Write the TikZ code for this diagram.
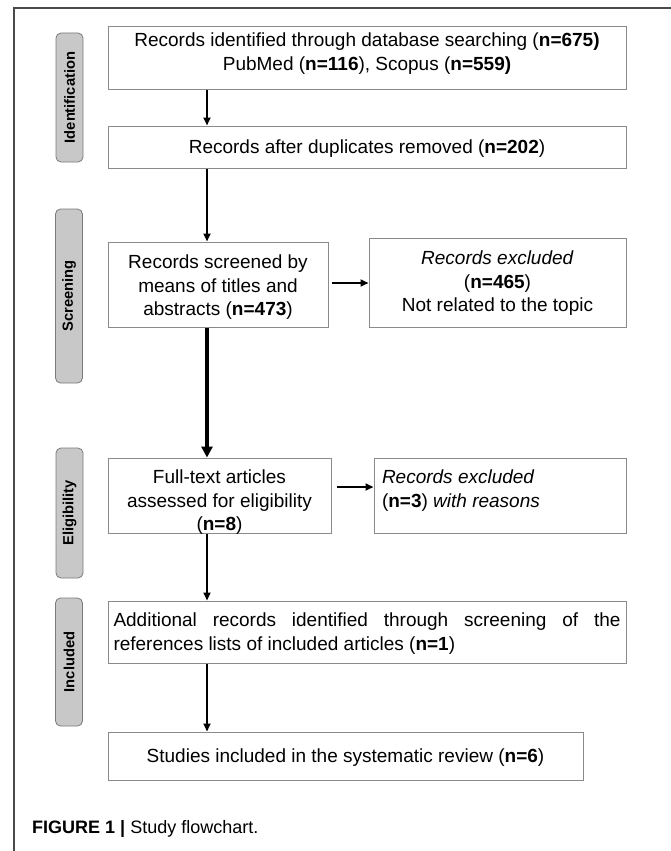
\documentclass[tikz,border=0pt]{standalone}
\usepackage{fontspec}
\setmainfont{Liberation Sans}
\usetikzlibrary{arrows.meta}
\definecolor{boxgray}{HTML}{8A8A8A}
\definecolor{labfill}{HTML}{C8C8C8}
\definecolor{labdraw}{HTML}{7A7A7A}
\definecolor{framegray}{HTML}{4A4A4A}
\newcommand{\inbox}[5]{\parbox[c][#1][t]{#2}{\vspace*{#3}#4\strut #5}}
\begin{document}
\begin{tikzpicture}[x=1pt,y=-1pt,
  box/.style={draw=boxgray,line width=1pt,fill=white,inner sep=0pt,
    font=\fontsize{19}{23.5}\selectfont},
  phase/.style={draw=labdraw,fill=labfill,rounded corners=5pt,line width=0.8pt,
    rotate=90,minimum height=27pt,inner sep=0pt,
    font=\fontsize{14.7}{17}\selectfont\bfseries},
  arr/.style={-{Triangle[length=8pt,width=7pt]},line width=2.2pt},
  thickarr/.style={-{Triangle[length=11pt,width=11pt]},line width=4.5pt},
  thinarr/.style={-{Triangle[length=8pt,width=7pt]},line width=1.8pt},
  harr/.style={-{Triangle[length=8pt,width=7pt]},line width=2.6pt}
]
\useasboundingbox (0,0) rectangle (671,851);
\fill[white] (0,0) rectangle (671,851);
\draw[framegray,line width=1.3pt] (671,8) -- (14,8) -- (14,851);

% phase labels
\node[phase,minimum width=129pt] (p1) at (69.5,97.5) {Identification};
\node[phase,minimum width=174pt] (p2) at (69,296) {Screening};
\node[phase,minimum width=130pt] (p3) at (69.5,513) {Eligibility};
\node[phase,minimum width=128pt] (p4) at (69,662) {Included};

% boxes
\node[box,minimum width=518pt,minimum height=62pt] (ident) at (367,58)
  {\inbox{62pt}{518pt}{3.5pt}{\centering}{Records identified through database searching (\textbf{n=675)}\\
   PubMed (\textbf{n=116}), Scopus (\textbf{n=559)}}};
\node[box,minimum width=518pt,minimum height=42pt] (dup) at (367,147)
  {\inbox{42pt}{518pt}{11.3pt}{\centering}{Records after duplicates removed (\textbf{n=202})}};
\node[box,minimum width=220pt,minimum height=85pt] (scr) at (218,284.5)
  {\inbox{85pt}{220pt}{10.5pt}{\centering}{Records screened by\\ means of titles and\\ abstracts (\textbf{n=473})}};
\node[box,minimum width=257pt,minimum height=89pt] (excl1) at (497.5,282.5)
  {\inbox{89pt}{257pt}{10.5pt}{\centering}{\textit{Records excluded}\\ (\textbf{n=465})\\ Not related to the topic}};
\node[box,minimum width=223pt,minimum height=75pt] (full) at (219.5,495.5)
  {\inbox{75pt}{223pt}{9.5pt}{\centering}{Full-text articles\\ assessed for eligibility\\ (\textbf{n=8})}};
\node[box,minimum width=252pt,minimum height=75pt] (excl2) at (500,495.5)
  {\inbox{75pt}{236pt}{9.5pt}{\raggedright}{\textit{Records excluded}\\ (\textbf{n=3}) \textit{with reasons}}};
\node[box,minimum width=518pt,minimum height=62pt] (add) at (367,632)
  {\inbox{62pt}{507pt}{9.5pt}{\tolerance=10000\hyphenpenalty=10000\exhyphenpenalty=10000}{Additional records identified through screening of the references lists of included articles (\textbf{n=1})}};
\node[box,minimum width=475pt,minimum height=48pt] (stud) at (345.5,756)
  {\inbox{48pt}{475pt}{14.3pt}{\centering}{Studies included in the systematic review (\textbf{n=6})}};

% connectors
\coordinate (col) at (207,0);
\coordinate (h2) at (0,487);
\draw[arr] (ident.south -| col) -- (dup.north -| col);
\draw[arr,line width=2.6pt] (dup.south -| col) -- (scr.north -| col);
\draw[thickarr] (scr.south -| col) -- (full.north -| col);
\draw[thinarr] (full.south -| col) -- (add.north -| col);
\draw[thinarr] (add.south -| col) -- (stud.north -| col);
\draw[harr,shorten <=3pt] (scr.east |- 0,283) -- (excl1.west |- 0,283);
\draw[harr,shorten <=5pt] (full.east |- h2) -- (excl2.west |- h2);

% caption
\node[anchor=west,inner sep=0pt,font=\fontsize{18}{20}\selectfont] (cap) at (32,829)
  {\textbf{FIGURE 1 |} Study flowchart.};
\end{tikzpicture}
\end{document}
